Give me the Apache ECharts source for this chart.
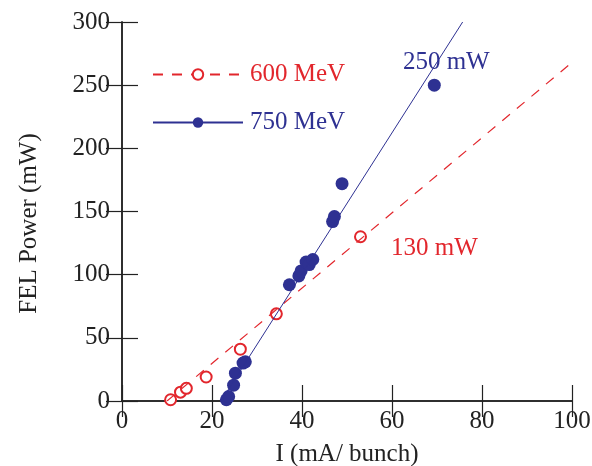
<!DOCTYPE html>
<html>
<head>
<meta charset="utf-8">
<script src="https://cdn.jsdelivr.net/npm/echarts@6/dist/echarts.min.js"></script>
<style>
  html, body { margin: 0; padding: 0; background: #fff; }
  #chart { width: 592px; height: 466px; }
</style>
</head>
<body>
<div id="chart"></div>
<script>
// measured points, I (mA/bunch) vs FEL power (mW)
const mev600 = [
  [10.8, 1], [13.0, 7], [14.3, 10], [18.7, 19],
  [26.3, 41], [34.3, 69], [53.0, 130]
]
const mev750 = [
  [23.2, 1], [23.7, 3.5], [24.8, 12.5], [25.2, 22],
  [26.9, 30], [27.4, 31], [37.2, 92], [39.3, 99],
  [39.8, 103], [40.9, 110], [41.6, 108], [42.4, 112],
  [46.8, 142], [47.2, 146], [48.9, 172], [69.4, 250]
]
// fitted lines (end points)
const fit600 = [[10, 0], [100, 268]]
const fit750 = [[22, 0], [75.7, 300]]

const xTicks = [0, 20, 40, 60, 80, 100]
const yTicks = [0, 50, 100, 150, 200, 250, 300]

const RED = '#e2262c'
const BLUE = '#2e3192'
const FONT = 'Liberation Serif'

const chart = echarts.init(document.getElementById('chart'))

const frameAxis = (extra) => ({
  axisLine: { show: true, lineStyle: { color: '#222', width: 1.5 } },
  axisTick: { show: true, inside: true, length: 16, lineStyle: { color: '#222', width: 1.2 } },
  splitLine: { show: false },
  ...extra
})

chart.setOption({
  animation: false,
  backgroundColor: '#fff',
  grid: { left: 122, right: 20, top: 22, bottom: 65, outerBoundsMode: 'none' },
  legend: {
    orient: 'vertical',
    left: 147,
    top: 57,
    itemWidth: 90,
    itemHeight: 13,
    itemGap: 23,
    textStyle: { fontFamily: FONT, fontSize: 25, padding: [0, 0, 0, 2] },
    data: [
      { name: '600 MeV', textStyle: { color: RED } },
      { name: '750 MeV', textStyle: { color: BLUE } }
    ]
  },
  xAxis: [
    frameAxis({
      type: 'value', min: 0, max: 100, interval: 20,
      name: 'I (mA/ bunch)', nameLocation: 'middle', nameGap: 41,
      nameTextStyle: { fontFamily: FONT, fontSize: 25, color: '#222' },
      axisLabel: {
        fontFamily: FONT, fontSize: 25, color: '#222', margin: 8,
        formatter: (v) => (xTicks.includes(v) ? String(v) : '')
      }
    }),
    frameAxis({
      type: 'value', min: 0, max: 100, interval: 20, position: 'top',
      axisLabel: { show: false }
    })
  ],
  yAxis: [
    frameAxis({
      type: 'value', min: 0, max: 300, interval: 50,
      name: 'FEL Power (mW)', nameLocation: 'middle', nameGap: 80,
      nameTextStyle: { fontFamily: FONT, fontSize: 25, color: '#222', padding: [0, 24, 0, 0] },
      axisLabel: {
        fontFamily: FONT, fontSize: 25, color: '#222', margin: 12,
        formatter: (v) => (yTicks.includes(v) ? String(v) : '')
      }
    }),
    frameAxis({
      type: 'value', min: 0, max: 300, interval: 50, position: 'right',
      axisLabel: { show: false }
    })
  ],
  series: [
    {
      name: '600 MeV',
      type: 'line',
      data: fit600,
      symbol: 'emptyCircle',
      showSymbol: false,
      color: RED,
      lineStyle: { color: RED, width: 1.2, type: [10, 9] },
      silent: true
    },
    {
      name: '750 MeV',
      type: 'line',
      data: fit750,
      symbol: 'circle',
      showSymbol: false,
      color: BLUE,
      lineStyle: { color: BLUE, width: 1 },
      silent: true
    },
    {
      name: '600 pts',
      type: 'scatter',
      symbol: 'emptyCircle',
      symbolSize: 11,
      itemStyle: { color: RED, borderWidth: 1.2, opacity: 1 },
      data: mev600.map((p, i) => i === mev600.length - 1
        ? {
            value: p,
            label: {
              show: true, position: 'right', distance: 20, offset: [4, 12],
              formatter: '130 mW', color: RED, fontFamily: FONT, fontSize: 25
            }
          }
        : p)
    },
    {
      name: '750 pts',
      type: 'scatter',
      symbol: 'circle',
      symbolSize: 13,
      itemStyle: { color: BLUE, opacity: 1 },
      data: mev750.map((p, i) => i === mev750.length - 1
        ? {
            value: p,
            label: {
              show: true, position: 'top', distance: 10, offset: [12, 6],
              formatter: '250 mW', color: BLUE, fontFamily: FONT, fontSize: 25
            }
          }
        : p)
    }
  ]
})
</script>
</body>
</html>
